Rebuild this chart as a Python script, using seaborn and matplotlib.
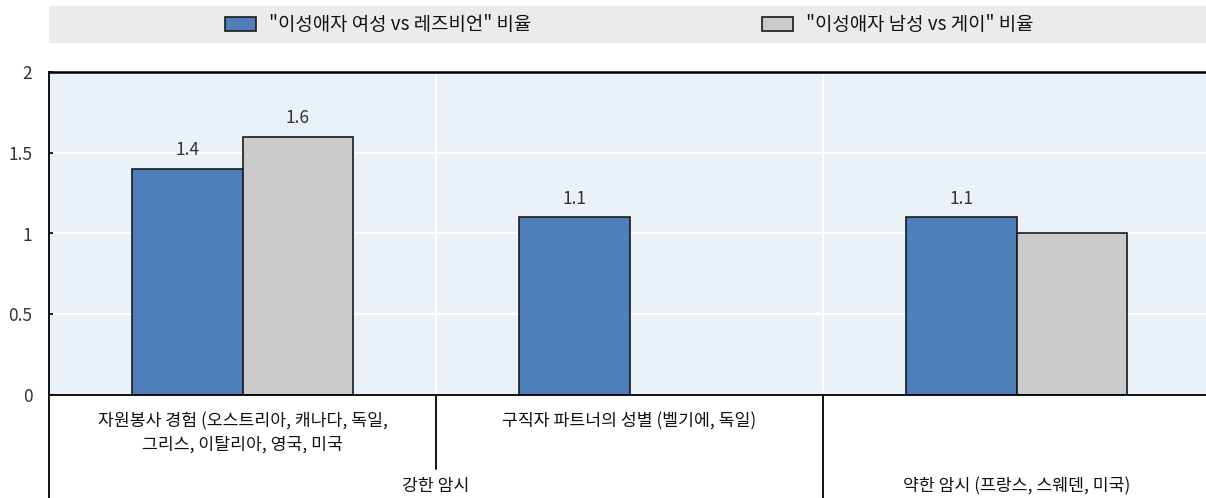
import numpy as np
import pandas as pd
import matplotlib
matplotlib.use("Agg")
import matplotlib.pyplot as plt
import matplotlib.transforms as mtransforms
from matplotlib.patches import Rectangle
from matplotlib.lines import Line2D
import seaborn as sns

categories = ["자원봉사 경험 (오스트리아, 캐나다, 독일,\n그리스, 이탈리아, 영국, 미국",
              "구직자 파트너의 성별 (벨기에, 독일)",
              "약한 암시 (프랑스, 스웨덴, 미국)"]
cat_keys = ["c1", "c2", "c3"]
series_names = ['"이성애자 여성 vs 레즈비언" 비율', '"이성애자 남성 vs 게이" 비율']
women_vals = [1.4, 1.1, 1.1]
men_vals = [1.6, np.nan, 1.0]
value_labels_w = ["1.4", "1.1", "1.1"]
value_labels_m = ["1.6", "", "1.0"]
group_label = "강한 암시"
yticks = [0, 0.5, 1, 1.5, 2]
ytick_labels = ["0", "0.5", "1", "1.5", "2"]

sns.set_theme(style="white")
plt.rcParams['font.family'] = ['Noto Sans CJK KR', 'DejaVu Sans']

df = pd.DataFrame({
    "cat": cat_keys * 2,
    "series": [series_names[0]] * 3 + [series_names[1]] * 3,
    "value": women_vals + men_vals,
})

W, H = 1206, 498
fig = plt.figure(figsize=(W / 100, H / 100), dpi=100)
ax = fig.add_axes([49 / W, 103 / H, 1161 / W, 323 / H])
ax.set_facecolor("#eaf1f7")

colors = ["#4f7fb8", "#cbcbcb"]
sns.barplot(data=df, x="cat", y="value", hue="series", order=cat_keys,
            hue_order=series_names, palette=colors, width=0.57,
            edgecolor="#1a1a1a", linewidth=1.2, ax=ax, legend=True, saturation=1)

ax.set_ylim(0, 2)
ax.set_xlim(-0.5, 2.5)
ax.set_yticks(yticks)
ax.set_yticklabels(ytick_labels, fontsize=12.5, color="#333333")
ax.tick_params(axis="y", direction="in", length=3, width=1.2, color="black",
               pad=12, left=True)
ax.set_xticks([])
ax.set_xlabel("")
ax.set_ylabel("")

for y in [0.5, 1, 1.5]:
    ax.axhline(y, color="white", lw=1.5, zorder=0.5)
for x in [0.5, 1.5]:
    ax.axvline(x, color="white", lw=1.5, zorder=0.5)

for s in ["top", "left", "bottom"]:
    ax.spines[s].set_visible(True)
    ax.spines[s].set_color("black")
ax.spines["top"].set_linewidth(1.8)
ax.spines["bottom"].set_linewidth(1.3)
ax.spines["left"].set_linewidth(1.3)
ax.spines["right"].set_visible(False)

# value labels
for cont, labels in zip(ax.containers, [value_labels_w, value_labels_m]):
    for bar, lab in zip(cont.patches, labels):
        if bar is None or not lab:
            continue
        h = bar.get_height()
        if h is None or np.isnan(h):
            continue
        ax.annotate(lab, (bar.get_x() + bar.get_width() / 2, h),
                    xytext=(0, 7), textcoords="offset points",
                    ha="center", va="bottom", fontsize=12.5, color="#333333")

# category labels under axis
trans = mtransforms.blended_transform_factory(ax.transData, ax.transAxes)
fs = 12.4
ax.text(0, -0.052, categories[0], transform=trans, ha="center", va="top",
        fontsize=fs, linespacing=1.4, color="#111111")
ax.text(1, -0.052, categories[1], transform=trans, ha="center", va="top",
        fontsize=fs, color="#111111")
ax.text(2, -0.255, categories[2], transform=trans, ha="center", va="top",
        fontsize=fs, color="#111111")
ax.text(0.5, -0.255, group_label, transform=trans, ha="center", va="top",
        fontsize=fs, color="#111111")

# separators below axis
for x, y0 in [(-0.5, -0.32), (0.5, -0.23), (1.5, -0.32)]:
    ax.add_line(Line2D([x, x], [0, y0], transform=trans, color="black",
                       lw=1.3, clip_on=False))

# legend band
fig.patches.append(Rectangle((49 / W, 1 - 43 / H), 1 - 49 / W, 37 / H,
                             transform=fig.transFigure, facecolor="#ebebeb",
                             edgecolor="none", zorder=0))
handles, labels = ax.get_legend_handles_labels()
ax.get_legend().remove()
fig.legend(handles, labels, loc="center", bbox_to_anchor=(629 / W, 1 - 25 / H),
           ncol=2, frameon=False, fontsize=13.6, handlelength=1.65,
           handleheight=0.82, columnspacing=12.2, handletextpad=0.7,
           labelcolor="#111111")

fig.savefig("out.png", dpi=100)
